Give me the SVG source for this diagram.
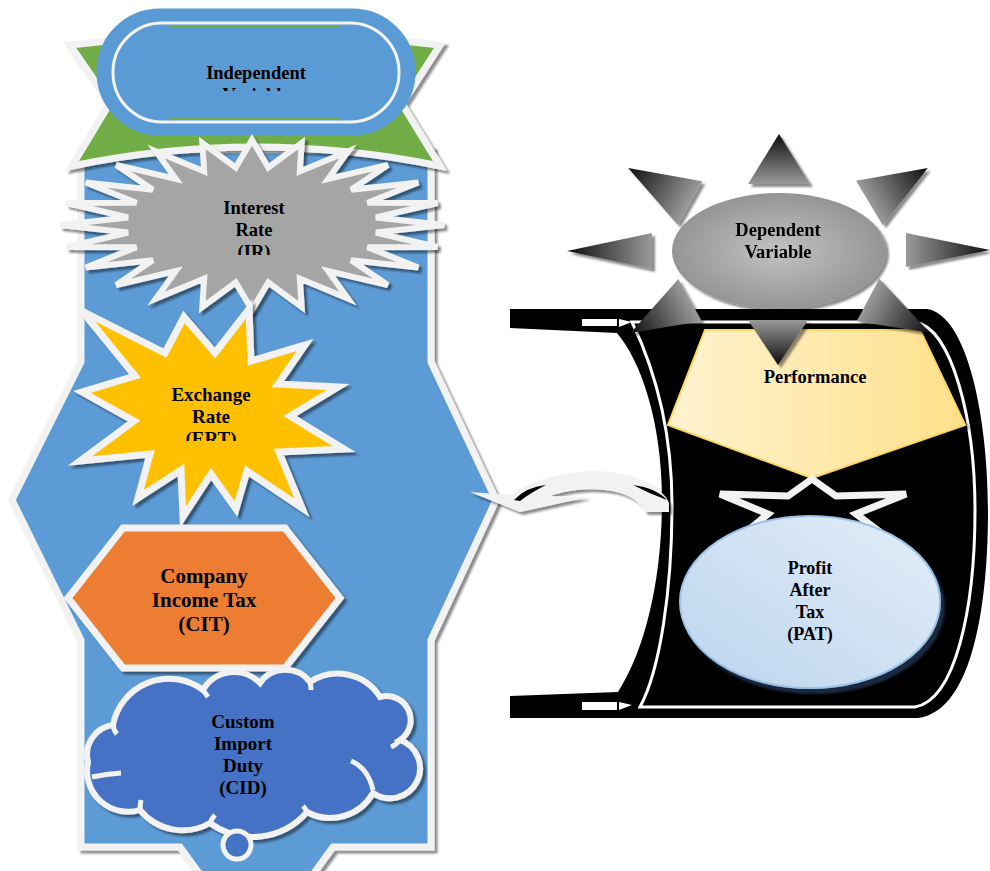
<svg xmlns="http://www.w3.org/2000/svg" width="990" height="871" viewBox="0 0 990 871">
<defs>
<style>
.t{font-family:"Liberation Serif","Times New Roman",serif;font-weight:bold;fill:#000;text-anchor:middle}
.wb{stroke:#f2f2f2;stroke-width:7;stroke-linejoin:miter}
</style>
<filter id="sh" x="-10%" y="-10%" width="130%" height="130%"><feDropShadow dx="3" dy="3" stdDeviation="1" flood-color="#000" flood-opacity="0.45"/></filter>
<filter id="shd" x="-10%" y="-10%" width="130%" height="130%"><feDropShadow dx="4" dy="5" stdDeviation="1" flood-color="#1c2f4a" flood-opacity="0.9"/></filter>
<linearGradient id="tri" x1="0" y1="1" x2="0" y2="0"><stop offset="0" stop-color="#9a9a9a"/><stop offset="1" stop-color="#0d0d0d"/></linearGradient>
<radialGradient id="dv" cx="0.5" cy="0.5" r="0.6"><stop offset="0" stop-color="#c2c2c2"/><stop offset="1" stop-color="#8c8c8c"/></radialGradient>
<linearGradient id="pf" x1="0" y1="0" x2="1" y2="0"><stop offset="0" stop-color="#fff3d0"/><stop offset="1" stop-color="#ffe08a"/></linearGradient>
<linearGradient id="pat" x1="0" y1="1" x2="1" y2="0"><stop offset="0" stop-color="#bcd5ee"/><stop offset="1" stop-color="#e3edf8"/></linearGradient>
<clipPath id="cIV"><rect x="100" y="40" width="310" height="51"/></clipPath>
<clipPath id="cIR"><rect x="150" y="190" width="210" height="65"/></clipPath>
<clipPath id="cER"><rect x="120" y="375" width="190" height="66"/></clipPath>
</defs>

<!-- Independent side -->
<g id="body">
<polygon points="81,150 431,150 431,362 496,500 431,640 431,847 333,847 309,880 204,880 180,847 81,847 81,640 12,500 81,362" fill="#5b9bd5" class="wb" filter="url(#sh)"/>
</g>

<g id="ribbon">
<path d="M70,45 Q255,22 440,45 L402,104 L440,166 Q255,128 72,166 L110,103 Z" fill="#70ad47" class="wb" filter="url(#sh)"/>
</g>

<g id="independent">
<rect x="101" y="13" width="310" height="118" rx="59" fill="#5b9bd5" stroke="#5b9bd5" stroke-width="9"/>
<rect x="113" y="23" width="286" height="99" rx="49" fill="none" stroke="#f2f2f2" stroke-width="3"/>
<path d="M170,27 L340,27 M170,118 L340,118" stroke="#70ad47" stroke-width="2"/>
<rect x="117" y="27" width="278" height="91" rx="45" fill="#5b9bd5"/>
<g clip-path="url(#cIV)">
<text class="t" x="256" y="79" font-size="18.5">Independent</text>
<text class="t" x="256" y="101" font-size="18.5">Variable</text>
</g>
</g>

<g id="interest">
<path d="M444,225 L375.9,232.6 L437.5,247 L367.5,247.2 L418.3,267.5 L351.2,260.3 L387.8,285.1 L328.1,271 L348,298.6 L299.8,278.6 L301.7,307.1 L268.3,282.5 L252,310 L235.7,282.5 L202.3,307.1 L204.2,278.6 L156,298.6 L175.9,271 L116.2,285.1 L152.8,260.3 L85.7,267.5 L136.5,247.2 L66.5,247 L128.1,232.6 L60,225 L128.1,217.4 L66.5,203 L136.5,202.8 L85.7,182.5 L152.8,189.7 L116.2,164.9 L175.9,179 L156,151.4 L204.2,171.4 L202.3,142.9 L235.7,167.5 L252,140 L268.3,167.5 L301.7,142.9 L299.8,171.4 L348,151.4 L328.1,179 L387.8,164.9 L351.2,189.7 L418.3,182.5 L367.5,202.8 L437.5,203 L375.9,217.4 Z" fill="#a5a5a5" stroke="#f2f2f2" stroke-width="6" filter="url(#sh)"/>
<g clip-path="url(#cIR)">
<text class="t" x="254" y="214" font-size="18.5">Interest</text>
<text class="t" x="254" y="236" font-size="18.5">Rate</text>
<text class="t" x="254" y="258" font-size="18.5">(IR)</text>
</g>
</g>

<g id="exchange">
<polygon points="82,311 165,353 184,317 215,353 249,309 251,361 305,345 278,384 338,387 290,416 344,449 279,452 302,508 247,471 236,509 211,474 183,517 181,470 138,498 150,454 80,461 134,421 82,392 135,376" fill="#ffc000" class="wb" filter="url(#sh)"/>
<g clip-path="url(#cER)">
<text class="t" x="211" y="401" font-size="19">Exchange</text>
<text class="t" x="211" y="423" font-size="19">Rate</text>
<text class="t" x="211" y="445" font-size="19">(ERT)</text>
</g>
</g>

<g id="cit">
<polygon points="123,528 285,528 340,598 285,668 123,668 68,598" fill="#ed7d31" class="wb" filter="url(#sh)"/>
<text class="t" x="204" y="583" font-size="21">Company</text>
<text class="t" x="204" y="607" font-size="21">Income Tax</text>
<text class="t" x="204" y="631" font-size="21">(CIT)</text>
</g>

<g id="cid">
<path d="M88,762 A30,30 0 0 1 113,725 A57,57 0 0 1 203,690 A36,36 0 0 1 260,683 A31,31 0 0 1 310,682 A50,50 0 0 1 380,697 A24,24 0 0 1 400,740 A30,30 0 1 1 373,793 A49,49 0 0 1 307,812 A72,72 0 0 1 210,823 A55,55 0 0 1 140,810 A41,41 0 0 1 88,762 Z" fill="#4472c4" stroke="#f2f2f2" stroke-width="6" filter="url(#sh)"/>
<g fill="none" stroke="#f2f2f2" stroke-width="5">
<path d="M351,761 Q368,768 373,790"/>
<path d="M400,740 Q396,745 391,747"/>
<path d="M113,725 Q114,731 117,734"/>
<path d="M203,690 Q206,694 208,697"/>
<path d="M310,682 Q311,686 311,690"/>
<path d="M92,777 Q106,774 121,773"/>
<path d="M140,810 Q140,805 141,800"/>
<path d="M210,823 Q212,818 215,815"/>
<path d="M307,812 Q305,808 303,806"/>
</g>
<circle cx="237" cy="845" r="14" fill="#4472c4" stroke="#f2f2f2" stroke-width="5"/>
<text class="t" x="243" y="728" font-size="19">Custom</text>
<text class="t" x="243" y="750" font-size="19">Import</text>
<text class="t" x="243" y="772" font-size="19">Duty</text>
<text class="t" x="243" y="794" font-size="19">(CID)</text>
</g>

<!-- Dependent side -->
<g id="frame">
<path d="M510,309 L927,309 C968,315 988,420 988,510 C988,620 968,712 918,718 L510,718 L510,696 L618,692 C645,650 662,580 662,500 C662,420 640,360 617,333 L510,328 Z" fill="#000"/>
<path d="M632,322 L915,322 C952,328 975,420 975,510 C975,610 955,700 915,707 L640,707 C660,670 672,590 672,505 C672,430 655,370 632,322 Z" fill="none" stroke="#fff" stroke-width="3"/>
<rect x="582" y="319" width="35" height="7" fill="#fff"/>
<path d="M619,319 L632,322 L619,327 Z" fill="#fff"/>
<rect x="582" y="702" width="35" height="8" fill="#fff"/>
<path d="M619,702 L632,705 L619,710 Z" fill="#fff"/>
</g>

<g id="performance">
<polygon points="705,330 920,330 965,425 812,478 668,425" fill="url(#pf)" stroke="#ffd966" stroke-width="2" filter="url(#sh)"/>
<text class="t" x="815" y="383" font-size="18.5">Performance</text>
</g>

<g id="dependent">
<g fill="url(#tri)" filter="url(#sh)">
<polygon transform="translate(779,184)" points="-31,0 0,-50 31,0"/>
<polygon transform="translate(869.5,203) rotate(59)" points="-26,0 0,-68 26,0"/>
<polygon transform="translate(906,250) rotate(90)" points="-17,0 0,-84 17,0"/>
<polygon transform="translate(868,300) rotate(118)" points="-24,0 0,-70 24,0"/>
<polygon transform="translate(778,320) rotate(180)" points="-30,0 0,-45 30,0"/>
<polygon transform="translate(690,300) rotate(241)" points="-24,0 0,-68 24,0"/>
<polygon transform="translate(652,251) rotate(270)" points="-18,0 0,-85 18,0"/>
<polygon transform="translate(690,203) rotate(299.5)" points="-25,0 0,-71 25,0"/>
</g>
<ellipse cx="779" cy="251" rx="107" ry="58" fill="url(#dv)" filter="url(#sh)"/>
<text class="t" x="778" y="236" font-size="18.5">Dependent</text>
<text class="t" x="778" y="258" font-size="18.5">Variable</text>
</g>

<g id="star">
<polygon points="812,479 836,496 906,494 856,514 880,532 812,521 746,532 768,514 720,494 788,496" fill="#000" stroke="#f2f2f2" stroke-width="7" filter="url(#sh)"/>
</g>

<g id="pat">
<ellipse cx="810" cy="602" rx="130" ry="86" fill="url(#pat)" stroke="#9dc3e6" stroke-width="2" filter="url(#shd)"/>
<text class="t" x="810" y="574" font-size="18">Profit</text>
<text class="t" x="810" y="596" font-size="18">After</text>
<text class="t" x="810" y="618" font-size="18">Tax</text>
<text class="t" x="810" y="640" font-size="18">(PAT)</text>
</g>

<g id="connectors">
<path d="M470,492 L510,495 C545,472 600,464 640,479 C656,486 666,495 669,503 L669,512 L645,512 C640,500 625,492 605,490 C585,488 565,491 550,496 L588,497 L520,512 Z" fill="#f2f2f2" filter="url(#sh)"/>
<path d="M514,500 Q526,487 546,485 Q530,493 520,501 Z" fill="#000"/>
<path d="M633,485 Q656,488 667,500 Q650,494 633,485 Z" fill="#000"/>
</g>
</svg>
